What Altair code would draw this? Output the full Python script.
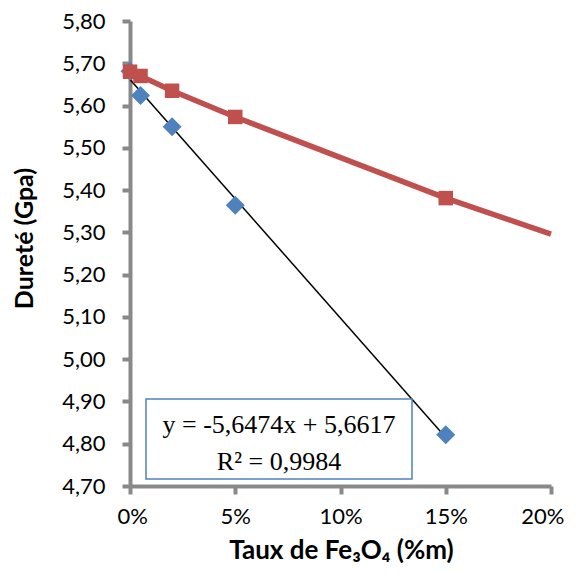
import altair as alt
import pandas as pd

# Red series (line + square markers)
red_x = [0.0, 0.005, 0.02, 0.05, 0.15]
red_y = [5.68, 5.67, 5.635, 5.573, 5.381]
# red line continues to 20% without marker
red_line_x = [0.0, 0.005, 0.02, 0.05, 0.15, 0.20]
red_line_y = [5.68, 5.67, 5.635, 5.573, 5.381, 5.296]

# Blue series (diamond markers)
blue_x = [0.0, 0.005, 0.02, 0.05, 0.15]
blue_y = [5.681, 5.624, 5.550, 5.364, 4.821]

# Linear trend line for blue series
trend_x = [0.0, 0.15]
trend_y = [5.6617, 4.8146]

eq_lines = ["y = -5,6474x + 5,6617", "R\u00b2 = 0,9984"]

red_pts = pd.DataFrame({"x": red_x, "y": red_y})
red_line = pd.DataFrame({"x": red_line_x, "y": red_line_y})
blue_pts = pd.DataFrame({"x": blue_x, "y": blue_y})
trend = pd.DataFrame({"x": trend_x, "y": trend_y})

LABEL_FONT = "Lato"
AX_COLOR = "#898989"

xscale = alt.Scale(domain=[0, 0.2], nice=False)
yscale = alt.Scale(domain=[4.7, 5.8], nice=False, zero=False)

xaxis = alt.Axis(
    title="Taux de Fe\u2083O\u2084 (%m)",
    values=[0, 0.05, 0.1, 0.15, 0.2],
    format=".0%",
    grid=False,
    domainColor=AX_COLOR, domainWidth=4,
    tickColor=AX_COLOR, tickWidth=4, tickSize=8,
    labelFont=LABEL_FONT, labelFontSize=22, labelColor="#000000",
    labelPadding=12, labelFlush=True, labelFlushOffset=13, labelOverlap=False,
    titleFont=LABEL_FONT, titleFontSize=26, titleFontWeight="bold",
    titleColor="#000000", titleBaseline="alphabetic",
    titleX=211, titleY=72, titleAnchor="middle", titleAlign="center",
)
yaxis = alt.Axis(
    title="Dureté (Gpa)",
    values=[4.7, 4.8, 4.9, 5.0, 5.1, 5.2, 5.3, 5.4, 5.5, 5.6, 5.7, 5.8],
    labelExpr="replace(format(datum.value, '.2f'), '.', ',')",
    grid=False,
    domainColor=AX_COLOR, domainWidth=4,
    tickColor=AX_COLOR, tickWidth=4, tickSize=8,
    labelFont=LABEL_FONT, labelFontSize=22, labelColor="#000000",
    labelPadding=17, labelOverlap=False,
    titleFont=LABEL_FONT, titleFontSize=25, titleFontWeight="bold",
    titleColor="#000000", titleBaseline="middle", titleAlign="center",
    titleX=-106, titleY=217, titleAngle=270,
)

red_l = alt.Chart(red_line).mark_line(color="#C0504D", strokeWidth=5.5).encode(
    x=alt.X("x:Q", scale=xscale, axis=xaxis),
    y=alt.Y("y:Q", scale=yscale, axis=yaxis),
)
red_m = alt.Chart(red_pts).mark_point(
    shape="square", filled=True, size=210, color="#C0504D", opacity=1
).encode(x=alt.X("x:Q", scale=xscale), y=alt.Y("y:Q", scale=yscale))

trend_l = alt.Chart(trend).mark_line(color="#000000", strokeWidth=1.5).encode(
    x=alt.X("x:Q", scale=xscale), y=alt.Y("y:Q", scale=yscale)
)
blue_m = alt.Chart(blue_pts).mark_point(
    shape="diamond", filled=True, size=360, color="#4F81BD", opacity=1
).encode(x=alt.X("x:Q", scale=xscale), y=alt.Y("y:Q", scale=yscale))

box = alt.Chart(pd.DataFrame({"a": [0]})).mark_rect(
    fill="white", stroke="#4F81BD", strokeWidth=1.5
).encode(x=alt.value(16), x2=alt.value(282), y=alt.value(378), y2=alt.value(458))

eq1 = alt.Chart(pd.DataFrame({"t": [eq_lines[0]]})).mark_text(
    font="Liberation Serif", fontSize=26, color="#000000"
).encode(text="t:N", x=alt.value(149), y=alt.value(404))
eq2 = alt.Chart(pd.DataFrame({"t": [eq_lines[1]]})).mark_text(
    font="Liberation Serif", fontSize=26, color="#000000"
).encode(text="t:N", x=alt.value(149), y=alt.value(441))

chart = alt.layer(red_l, trend_l, blue_m, red_m, box, eq1, eq2).properties(
    width=421, height=465,
    autosize=alt.AutoSizeParams(type="none"),
    padding={"left": 122, "top": 13, "right": 17, "bottom": 78},
).configure_view(stroke=None)

chart.save("out.html", embed_options={"renderer": "svg", "actions": False})
